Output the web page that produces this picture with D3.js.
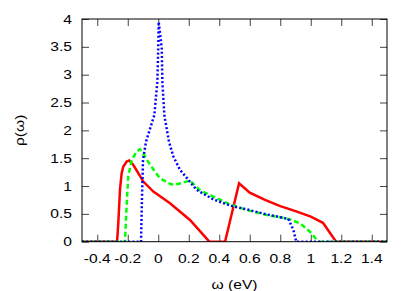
<!DOCTYPE html>
<html>
<head>
    <meta charset="UTF-8">
    <script src="https://cdn.jsdelivr.net/npm/d3@7"></script>
    <style>
        body { margin: 0; background: #fff; }
        text { font-family: "Liberation Sans", Arial, sans-serif; font-size: 13px; fill: #000; }
    </style>
</head>
<body>
<svg id="chart" width="415" height="291"></svg>
<script>

// 数据 (ω in eV, ρ)
let red_w = [-0.5, -0.27, -0.262, -0.251, -0.24, -0.229, -0.207, -0.19, -0.164, -0.098, -0.032, 0.077, 0.208, 0.335, 0.438, 0.53, 0.6, 0.7, 0.8, 0.9, 1.0, 1.08, 1.166, 1.5];
let red_r = [0, 0, 0.33, 0.93, 1.23, 1.35, 1.44, 1.46, 1.38, 1.08, 0.9, 0.69, 0.39, 0, 0, 1.05, 0.88, 0.75, 0.64, 0.55, 0.45, 0.34, 0, 0];

let green_w = [-0.5, -0.218, -0.21, -0.197, -0.174, -0.141, -0.12, -0.09, -0.054, 0.011, 0.077, 0.1, 0.15, 0.208, 0.274, 0.361, 0.47, 0.58, 0.711, 0.8, 0.864, 0.93, 0.995, 1.05, 1.5];
let green_r = [0, 0, 0.5, 1.17, 1.47, 1.62, 1.66, 1.55, 1.38, 1.14, 1.04, 1.02, 1.05, 1.1, 0.92, 0.81, 0.67, 0.57, 0.48, 0.44, 0.4, 0.33, 0.18, 0, 0];

let blue_w = [-0.5, -0.113, -0.107, -0.1, -0.08, -0.05, -0.026, -0.006, 0.0, 0.003, 0.023, 0.027, 0.04, 0.07, 0.099, 0.143, 0.252, 0.361, 0.47, 0.58, 0.711, 0.853, 0.886, 0.905, 1.5];
let blue_r = [0, 0, 0.75, 1.47, 1.8, 2.06, 2.27, 2.87, 3.47, 3.95, 3.47, 2.87, 2.27, 1.8, 1.53, 1.29, 0.93, 0.76, 0.65, 0.58, 0.49, 0.41, 0.21, 0, 0];

let x_ticks = [-0.4, -0.2, 0, 0.2, 0.4, 0.6, 0.8, 1, 1.2, 1.4];
let y_ticks = [0, 0.5, 1, 1.5, 2, 2.5, 3, 3.5, 4];

//=====================================  =====================================//
let m_left = 82, m_right = 387, m_top = 19, m_bottom = 241.7;
let svg = d3.select("#chart");

let X = d3.scaleLinear([-0.5, 1.5], [m_left, m_right]);
let Y = d3.scaleLinear([0, 4], [m_bottom, m_top]);

svg.append("clipPath").attr("id", "clip")
    .append("rect").attr("x", m_left).attr("y", m_top)
    .attr("width", m_right - m_left).attr("height", m_bottom - m_top);

// 刻度 (向内)
function ticks(axis, tr) {
    let g = svg.append("g").attr("transform", tr).call(axis);
    g.select(".domain").remove();
    g.selectAll("line").attr("stroke", "#444");
    g.selectAll("text").remove();
}
ticks(d3.axisBottom(X).tickValues(x_ticks).tickSize(-7), `translate(0,${m_bottom})`);
ticks(d3.axisTop(X).tickValues(x_ticks).tickSize(-7), `translate(0,${m_top})`);
ticks(d3.axisLeft(Y).tickValues(y_ticks).tickSize(-7), `translate(${m_left},0)`);
ticks(d3.axisRight(Y).tickValues(y_ticks).tickSize(-7), `translate(${m_right},0)`);

// 刻度文字 (横向拉伸)
x_ticks.forEach(v => {
    svg.append("text")
        .attr("transform", `translate(${X(v)},${m_bottom + 21}) scale(1.2,1)`)
        .attr("text-anchor", "middle")
        .text(v);
});
y_ticks.forEach(v => {
    svg.append("text")
        .attr("transform", `translate(${m_left - 10},${Y(v) + 4.5}) scale(1.2,1)`)
        .attr("text-anchor", "end")
        .text(v);
});

svg.append("text")
    .attr("transform", `translate(${(m_left + m_right) / 2},${288.5}) scale(1.2,1)`)
    .attr("text-anchor", "middle")
    .text("ω (eV)");
svg.append("text")
    .attr("transform", `translate(24,${(m_top + m_bottom) / 2}) rotate(-90) scale(1.2,1)`)
    .attr("text-anchor", "middle")
    .text("ρ(ω)");

// 曲线
let line = d3.line().x(d => X(d[0])).y(d => Y(d[1]));
let series = [
    { w: red_w, r: red_r, color: "#ff0000", dash: null },
    { w: green_w, r: green_r, color: "#00ff00", dash: "5,3" },
    { w: blue_w, r: blue_r, color: "#0000ff", dash: "2,2.2" }
];
series.forEach(s => {
    svg.append("path")
        .datum(d3.zip(s.w, s.r))
        .attr("clip-path", "url(#clip)")
        .attr("fill", "none")
        .attr("stroke", s.color)
        .attr("stroke-width", 2.5)
        .attr("stroke-dasharray", s.dash)
        .attr("d", line);
});

// 边框
svg.append("rect")
    .attr("x", m_left).attr("y", m_top)
    .attr("width", m_right - m_left).attr("height", m_bottom - m_top)
    .attr("fill", "none").attr("stroke", "#000").attr("stroke-width", 1);

</script>
</body>
</html>
